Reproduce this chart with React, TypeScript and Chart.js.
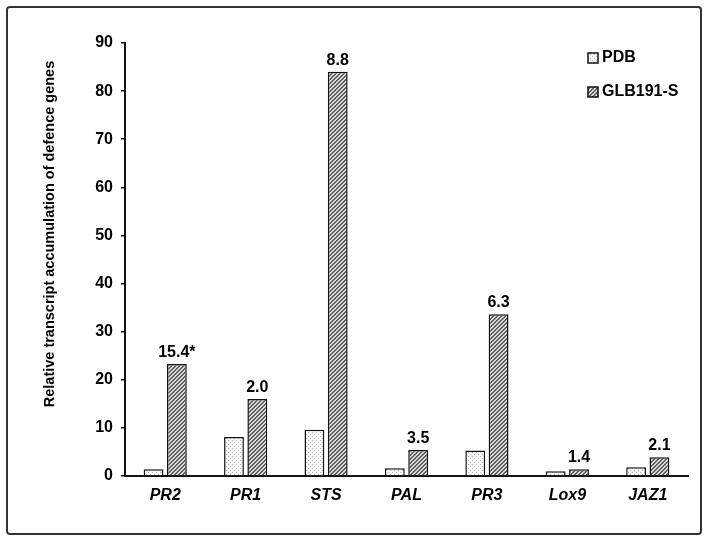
import React, { useEffect, useRef } from "react";
import { Chart, registerables } from "chart.js";

Chart.register(...registerables);

const categories = ["PR2", "PR1", "STS", "PAL", "PR3", "Lox9", "JAZ1"];
const seriesNames = ["PDB", "GLB191-S"];
const pdbValues = [1.4, 8.1, 9.6, 1.6, 5.3, 1.0, 1.8];
const glbValues = [23.3, 16.0, 84.0, 5.4, 33.6, 1.4, 3.9];
const foldLabels = ["15.4*", "2.0", "8.8", "3.5", "6.3", "1.4", "2.1"];
const yTitle = "Relative transcript accumulation of defence genes";
const yMin = 0;
const yMax = 90;
const yStep = 10;

const FONT = "'Liberation Sans', Arial, sans-serif";

function makePattern(kind: "dots" | "hatch"): CanvasPattern | string {
  const c = document.createElement("canvas");
  c.width = 4;
  c.height = 4;
  const g = c.getContext("2d");
  if (!g) return kind === "dots" ? "#eee" : "#aaa";
  if (kind === "dots") {
    g.fillStyle = "#f6f6f6";
    g.fillRect(0, 0, 4, 4);
    g.fillStyle = "#b4b4b4";
    g.fillRect(0, 0, 1, 1);
    g.fillRect(2, 2, 1, 1);
  } else {
    g.fillStyle = "#d8d8d8";
    g.fillRect(0, 0, 4, 4);
    g.fillStyle = "#606060";
    for (let x = 0; x < 4; x++) {
      for (let y = 0; y < 4; y++) {
        if ((x + y) % 4 === 0 || (x + y) % 4 === 1) g.fillRect(x, y, 1, 1);
      }
    }
  }
  const p = g.createPattern(c, "repeat");
  return p || (kind === "dots" ? "#eee" : "#aaa");
}

export default function App() {
  const ref = useRef<HTMLCanvasElement | null>(null);

  useEffect(() => {
    document.body.style.margin = "0";
    const canvas = ref.current;
    if (!canvas) return;
    const dots = makePattern("dots");
    const hatch = makePattern("hatch");
    const fills = [dots, hatch];

    const framePlugin = {
      id: "frame",
      afterDraw(chart: any) {
        const ctx = chart.ctx;
        ctx.save();
        ctx.strokeStyle = "#333";
        ctx.lineWidth = 2;
        ctx.beginPath();
        if ((ctx as any).roundRect) {
          (ctx as any).roundRect(7, 7, 694, 527, 3);
        } else {
          ctx.rect(7, 7, 694, 527);
        }
        ctx.stroke();
        ctx.restore();
      },
    };

    const yTitlePlugin = {
      id: "yTitle",
      afterDraw(chart: any) {
        const ctx = chart.ctx;
        ctx.save();
        ctx.translate(50, 234);
        ctx.rotate(-Math.PI / 2);
        ctx.fillStyle = "#000";
        ctx.font = `bold 14.5px ${FONT}`;
        ctx.textAlign = "center";
        ctx.textBaseline = "middle";
        ctx.fillText(yTitle, 0, 0);
        ctx.restore();
      },
    };

    const labelPlugin = {
      id: "foldLabels",
      afterDatasetsDraw(chart: any) {
        const ctx = chart.ctx;
        const meta = chart.getDatasetMeta(1);
        ctx.save();
        ctx.fillStyle = "#000";
        ctx.font = `bold 16px ${FONT}`;
        ctx.textAlign = "center";
        ctx.textBaseline = "alphabetic";
        meta.data.forEach((el: any, i: number) => {
          ctx.fillText(foldLabels[i], el.x, el.y - 7);
        });
        ctx.restore();
      },
    };

    const legendPlugin = {
      id: "customLegend",
      afterDraw(chart: any) {
        const ctx = chart.ctx;
        const area = chart.chartArea;
        const x = area.right - 100;
        const ys = [58, 92];
        ctx.save();
        ctx.font = `bold 16px ${FONT}`;
        ctx.textAlign = "left";
        ctx.textBaseline = "middle";
        seriesNames.forEach((name, i) => {
          const y = ys[i];
          ctx.fillStyle = fills[i] as any;
          ctx.fillRect(x, y - 5, 10, 10);
          ctx.strokeStyle = "#111";
          ctx.lineWidth = 1.5;
          ctx.strokeRect(x, y - 5, 10, 10);
          ctx.fillStyle = "#000";
          ctx.fillText(name, x + 14, y);
        });
        ctx.restore();
      },
    };

    const chart = new Chart(canvas, {
      type: "bar",
      data: {
        labels: categories,
        datasets: [
          {
            label: seriesNames[0],
            data: pdbValues,
            backgroundColor: dots as any,
            borderColor: "#111",
            borderWidth: 1.5,
            borderSkipped: "bottom",
            categoryPercentage: 0.58,
            barPercentage: 0.85,
          },
          {
            label: seriesNames[1],
            data: glbValues,
            backgroundColor: hatch as any,
            borderColor: "#111",
            borderWidth: 1.5,
            borderSkipped: "bottom",
            categoryPercentage: 0.58,
            barPercentage: 0.85,
          },
        ],
      },
      options: {
        responsive: false,
        animation: false,
        layout: { padding: { left: 0, right: 21, top: 43, bottom: 0 } },
        plugins: {
          legend: { display: false },
          tooltip: { enabled: false },
        },
        scales: {
          x: {
            grid: { display: false, drawTicks: false },
            border: { display: true, color: "#111", width: 2 },
            ticks: {
              color: "#000",
              font: { family: FONT, size: 16, weight: "bold", style: "italic" },
              padding: 10,
            },
            afterFit(scale: any) {
              scale.height = 66;
            },
          },
          y: {
            min: yMin,
            max: yMax,
            grid: {
              drawOnChartArea: false,
              drawTicks: true,
              tickLength: 4,
              color: "#111",
              lineWidth: 1.5,
            },
            border: { display: true, color: "#111", width: 2 },
            ticks: {
              stepSize: yStep,
              color: "#000",
              font: { family: FONT, size: 16, weight: "bold" },
              padding: 8,
            },
            afterFit(scale: any) {
              scale.width = 125;
            },
          },
        },
      },
      plugins: [framePlugin, yTitlePlugin, labelPlugin, legendPlugin],
    });

    return () => {
      chart.destroy();
    };
  }, []);

  return (
    <div style={{ width: 709, height: 542 }}>
      <canvas ref={ref} width={709} height={542} style={{ display: "block" }} />
    </div>
  );
}
